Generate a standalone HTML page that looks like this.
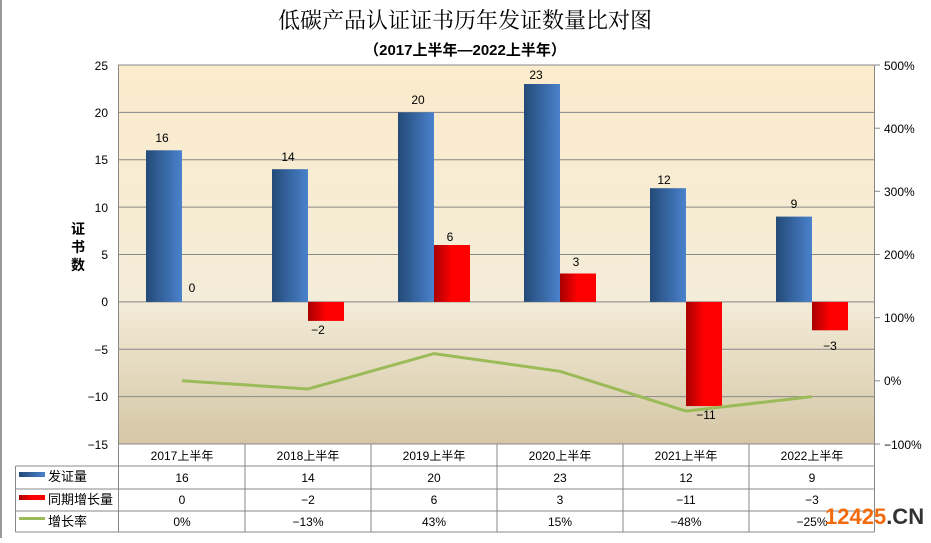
<!DOCTYPE html>
<html><head><meta charset="utf-8"><style>
body{margin:0;background:#fff;width:931px;height:538px;overflow:hidden}
text{font-family:"Liberation Sans","Noto Sans CJK SC",sans-serif}
</style></head><body>
<svg width="931" height="538" viewBox="0 0 931 538" xmlns="http://www.w3.org/2000/svg">
<defs>
<linearGradient id="bg" x1="0" y1="0" x2="0" y2="1">
<stop offset="0" stop-color="#fcebcc"/>
<stop offset="0.62" stop-color="#f3ecd8"/>
<stop offset="1" stop-color="#d5c7a6"/>
</linearGradient>
<linearGradient id="bl" x1="0" y1="0" x2="1" y2="0">
<stop offset="0" stop-color="#234a78"/><stop offset="1" stop-color="#4a82cc"/>
</linearGradient>
<linearGradient id="rd" x1="0" y1="0" x2="1" y2="0">
<stop offset="0" stop-color="#a80000"/><stop offset="0.5" stop-color="#ff0000"/><stop offset="1" stop-color="#ff0000"/>
</linearGradient>
</defs>
<line x1="1" y1="0" x2="1" y2="538" stroke="#999" stroke-width="2"/>
<text x="465" y="28" font-size="22" text-anchor="middle" style="font-family:'Liberation Serif','Noto Serif CJK SC',serif">低碳产品认证证书历年发证数量比对图</text>
<text x="465" y="55" font-size="15" font-weight="bold" text-anchor="middle">（2017上半年—2022上半年）</text>
<rect x="118.5" y="65" width="756" height="379" fill="url(#bg)" stroke="#888"/>
<g stroke="#888" stroke-width="1">
<line x1="118.5" y1="112.4" x2="874.5" y2="112.4"/>
<line x1="118.5" y1="159.8" x2="874.5" y2="159.8"/>
<line x1="118.5" y1="207.1" x2="874.5" y2="207.1"/>
<line x1="118.5" y1="254.5" x2="874.5" y2="254.5"/>
<line x1="118.5" y1="301.9" x2="874.5" y2="301.9"/>
<line x1="118.5" y1="349.3" x2="874.5" y2="349.3"/>
<line x1="118.5" y1="396.6" x2="874.5" y2="396.6"/>
<line x1="874.5" y1="65" x2="880" y2="65"/><line x1="874.5" y1="128.2" x2="880" y2="128.2"/>
<line x1="874.5" y1="191.3" x2="880" y2="191.3"/><line x1="874.5" y1="254.5" x2="880" y2="254.5"/>
<line x1="874.5" y1="317.7" x2="880" y2="317.7"/><line x1="874.5" y1="380.8" x2="880" y2="380.8"/>
<line x1="874.5" y1="444" x2="880" y2="444"/>
</g>
<g font-size="12" text-anchor="end">
<text x="108" y="70">25</text><text x="108" y="117">20</text><text x="108" y="164">15</text>
<text x="108" y="212">10</text><text x="108" y="259">5</text><text x="108" y="306">0</text>
<text x="108" y="354">−5</text><text x="108" y="401">−10</text><text x="108" y="449">−15</text>
</g>
<g font-size="12">
<text x="884" y="70">500%</text><text x="884" y="133">400%</text><text x="884" y="196">300%</text>
<text x="884" y="259">200%</text><text x="884" y="322">100%</text><text x="884" y="385">0%</text>
<text x="884" y="449">−100%</text>
</g>
<g font-size="14" font-weight="bold" text-anchor="middle"><text x="78" y="234">证</text><text x="78" y="252">书</text><text x="78" y="270">数</text></g>
<g fill="url(#bl)">
<rect x="146" y="150.3" width="36" height="151.6"/>
<rect x="272" y="169.2" width="36" height="132.7"/>
<rect x="398" y="112.4" width="36" height="189.5"/>
<rect x="524" y="84" width="36" height="217.9"/>
<rect x="650" y="188.2" width="36" height="113.7"/>
<rect x="776" y="216.6" width="36" height="85.3"/>
</g>
<g fill="url(#rd)">
<rect x="308" y="301.9" width="36" height="19"/>
<rect x="434" y="245" width="36" height="56.9"/>
<rect x="560" y="273.5" width="36" height="28.4"/>
<rect x="686" y="301.9" width="36" height="104.2"/>
<rect x="812" y="301.9" width="36" height="28.4"/>
</g>
<polyline points="182,380.8 308,389 434,353.6 560,371.3 686,411.1 812,396.6" fill="none" stroke="#9bbb59" stroke-width="3"/>
<g font-size="12" text-anchor="middle">
<text x="162" y="142">16</text><text x="288" y="161">14</text><text x="418" y="104">20</text>
<text x="536" y="79">23</text><text x="664" y="184">12</text><text x="794" y="208">9</text>
<text x="192" y="292">0</text><text x="318" y="334">−2</text><text x="450" y="241">6</text>
<text x="576" y="266">3</text><text x="706" y="419">−11</text><text x="830" y="350">−3</text>
</g>
<g stroke="#888" stroke-width="1" fill="none">
<line x1="118.5" y1="444" x2="118.5" y2="532"/>
<line x1="15.5" y1="466" x2="874.5" y2="466"/>
<line x1="15.5" y1="489" x2="874.5" y2="489"/>
<line x1="15.5" y1="511" x2="874.5" y2="511"/>
<line x1="15.5" y1="532" x2="874.5" y2="532"/>
<line x1="15.5" y1="466" x2="15.5" y2="532"/>
<line x1="874.5" y1="444" x2="874.5" y2="532"/>
<line x1="245" y1="444" x2="245" y2="532"/><line x1="371" y1="444" x2="371" y2="532"/>
<line x1="497" y1="444" x2="497" y2="532"/><line x1="623" y1="444" x2="623" y2="532"/>
<line x1="749" y1="444" x2="749" y2="532"/>
</g>
<rect x="19" y="472" width="26" height="5" fill="url(#bl)"/>
<rect x="19" y="495" width="26" height="5" fill="url(#rd)"/>
<rect x="19" y="517" width="26" height="3" fill="#9bbb59"/>
<g font-size="13"><text x="48" y="481">发证量</text><text x="48" y="504">同期增长量</text><text x="48" y="526">增长率</text></g>
<g font-size="12" text-anchor="middle">
<text x="182" y="460">2017上半年</text><text x="308" y="460">2018上半年</text><text x="434" y="460">2019上半年</text>
<text x="560" y="460">2020上半年</text><text x="686" y="460">2021上半年</text><text x="812" y="460">2022上半年</text>
<text x="182" y="482">16</text><text x="308" y="482">14</text><text x="434" y="482">20</text><text x="560" y="482">23</text><text x="686" y="482">12</text><text x="812" y="482">9</text>
<text x="182" y="504">0</text><text x="308" y="504">−2</text><text x="434" y="504">6</text><text x="560" y="504">3</text><text x="686" y="504">−11</text><text x="812" y="504">−3</text>
<text x="182" y="526">0%</text><text x="308" y="526">−13%</text><text x="434" y="526">43%</text><text x="560" y="526">15%</text><text x="686" y="526">−48%</text><text x="812" y="526">−25%</text>
</g>
<text x="825" y="524" font-size="22" font-weight="bold"><tspan fill="#f26b0f">12425</tspan><tspan fill="#333">.CN</tspan></text>
</svg>
</body></html>
